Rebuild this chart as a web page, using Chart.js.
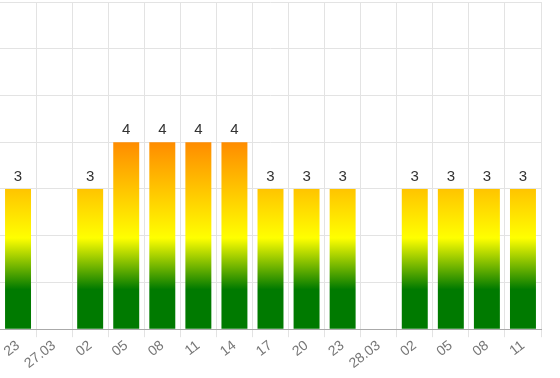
<!DOCTYPE html>
<html>
<head>
<meta charset="utf-8">
<script src="https://cdn.jsdelivr.net/npm/chart.js@4"></script>
<style>
  html, body { margin: 0; padding: 0; background: #fff; }
  #wrap { width: 560px; height: 378px; }
</style>
</head>
<body>
<div id="wrap"><canvas id="myChart" width="560" height="378"></canvas></div>
<script>
// chart data
const labels = ["23", "27.03", "02", "05", "08", "11", "14", "17", "20", "23", "28.03", "02", "05", "08", "11"];
const values = [3, null, 3, 4, 4, 4, 4, 3, 3, 3, null, 3, 3, 3, 3];
const yMax = 7;

// gradient stops, in axis values
const gradStops = [
  [0, "#007a00"],
  [0.85, "#007a00"],
  [1.95, "#ffff00"],
  [4, "#ff8c00"]
];

function barGradient(context) {
  const chart = context.chart;
  const area = chart.chartArea;
  if (!area) return "#ffc000";
  const y = chart.scales.y;
  const y0 = y.getPixelForValue(0);
  const y1 = y.getPixelForValue(4);
  const g = chart.ctx.createLinearGradient(0, y0, 0, y1);
  gradStops.forEach(s => g.addColorStop(s[0] / 4, s[1]));
  return g;
}

// draws the value above each bar
const valueLabels = {
  id: "valueLabels",
  afterDatasetsDraw(chart) {
    const ctx = chart.ctx;
    const meta = chart.getDatasetMeta(0);
    ctx.save();
    ctx.font = "15px 'Liberation Sans', Arial, sans-serif";
    ctx.fillStyle = "#333";
    ctx.textAlign = "center";
    ctx.textBaseline = "bottom";
    meta.data.forEach((bar, i) => {
      if (values[i] == null) return;
      ctx.fillText(values[i], bar.x, bar.y - 5);
    });
    ctx.restore();
  }
};

let ctx = document.getElementById("myChart").getContext("2d");
let myChart = new Chart(ctx, {
  type: "bar",
  data: {
    labels: labels,
    datasets: [{
      data: values,
      backgroundColor: barGradient,
      borderWidth: 0
    }]
  },
  options: {
    responsive: false,
    animation: false,
    layout: {
      padding: { top: 2, right: 19, left: 0, bottom: 6 }
    },
    plugins: {
      legend: { display: false },
      tooltip: { enabled: false }
    },
    scales: {
      x: {
        grid: { color: "#e3e3e3", tickLength: 8 },
        border: { color: "#aaa" },
        ticks: {
          color: "#777",
          font: { family: "'Liberation Sans', Arial, sans-serif", size: 14 },
          minRotation: 38,
          maxRotation: 38,
          padding: 0
        }
      },
      y: {
        min: 0,
        max: yMax,
        ticks: { display: false, stepSize: 1 },
        grid: { color: "#e3e3e3", drawTicks: false },
        border: { display: false }
      }
    }
  },
  plugins: [valueLabels]
});
</script>
</body>
</html>
